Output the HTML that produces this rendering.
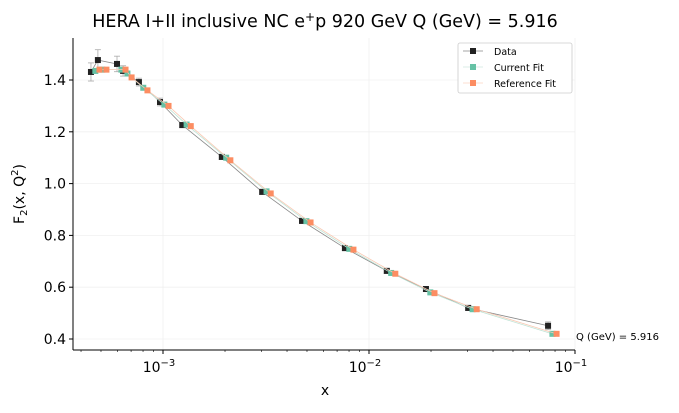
<!DOCTYPE html>
<html><head><meta charset="utf-8"><style>
body{margin:0;background:#fff;font-family:"Liberation Sans","DejaVu Sans",sans-serif}
svg text{font-family:"DejaVu Sans","Liberation Sans",sans-serif}
</style></head><body>
<svg id="c" width="679" height="408" viewBox="0 0 679 408">
<text x="325" y="27" font-size="17.5" text-anchor="middle" fill="#000">HERA I+II inclusive NC e<tspan dy="-6" font-size="12">+</tspan><tspan dy="6">p 920 GeV Q (GeV) = 5.916</tspan></text>
<g id="grid"></g><g id="series"></g><g id="axes"></g>
<text x="325" y="395" font-size="14" text-anchor="middle">x</text>
<text transform="translate(24,194) rotate(-90)" font-size="14" text-anchor="middle">F<tspan font-size="10" dy="3">2</tspan><tspan dy="-3">(x, Q</tspan><tspan font-size="10" dy="-6">2</tspan><tspan dy="6">)</tspan></text>
<text x="576" y="340" font-size="10">Q (GeV) = 5.916</text>
<g>
<rect x="458" y="43" width="114" height="50" rx="2" fill="#fff" stroke="#ccc" stroke-width="0.8"/>
<g><line x1="463" x2="483" y1="51" y2="51" stroke="#888" stroke-width="0.8"/><rect x="470" y="48" width="6" height="6" fill="#222"/><text x="494" y="55" font-size="9.5">Data</text></g>
<g><line x1="463" x2="483" y1="67" y2="67" stroke="#cfe9df" stroke-width="0.8"/><rect x="470" y="64" width="6" height="6" fill="#66c2a5"/><text x="494" y="71" font-size="9.5">Current Fit</text></g>
<g><line x1="463" x2="483" y1="83" y2="83" stroke="#fbd5c3" stroke-width="0.8"/><rect x="470" y="80" width="6" height="6" fill="#fc8d62"/><text x="494" y="87" font-size="9.5">Reference Fit</text></g>
</g>
</svg>
<script>
const xData=[4.47e-4,4.83e-4,5.98e-4,6.4e-4,7.64e-4,9.67e-4,1.24e-3,1.93e-3,3.03e-3,4.73e-3,7.64e-3,1.22e-2,1.89e-2,3.03e-2,7.4e-2];
const fData=[1.431,1.477,1.462,1.435,1.392,1.315,1.226,1.103,0.968,0.856,0.751,0.663,0.593,0.520,0.451];
const errData=[0.035,0.04,0.03,0.02,0.015,0.015,0.01,0.01,0.01,0.01,0.01,0.01,0.01,0.01,0.015];
const fCurrent=[1.435,1.44,1.44,1.425,1.37,1.305,1.228,1.10,0.97,0.855,0.748,0.655,0.58,0.515,0.42];
const fReference=[1.44,1.44,1.44,1.41,1.36,1.30,1.222,1.09,0.962,0.85,0.745,0.652,0.577,0.515,0.42];
const xTicks=[1e-3,1e-2,1e-1];
const xTickLabels=["10","10","10"];
const xTickExp=["−3","−2","−1"];
const yTicks=[0.4,0.6,0.8,1.0,1.2,1.4];
const NS="http://www.w3.org/2000/svg";
const X0=73,X1=575,Y0=38,Y1=350;
const sx=v=>163+(Math.log10(v)+3)*206;
const sy=v=>80+(1.4-v)*259;
function mk(p,t,a){const e=document.createElementNS(NS,t);for(const k in a)e.setAttribute(k,a[k]);p.appendChild(e);return e;}
const grid=document.getElementById('grid'),ser=document.getElementById('series'),ax=document.getElementById('axes');
xTicks.forEach(v=>{const g=mk(grid,'line',{x1:sx(v),x2:sx(v),y1:Y0,y2:Y1,stroke:'#f0f0f0','stroke-width':0.8});

});
yTicks.forEach(v=>{const g=mk(grid,'line',{x1:X0,x2:X1,y1:sy(v),y2:sy(v),stroke:'#f0f0f0','stroke-width':0.8});

});
function series(xs,ys,shift,col,lineCol,name,errs){
 const g=mk(ser,'g',{});
 
 
 const pts=xs.map((x,i)=>[sx(x*shift),sy(ys[i])]);
 mk(g,'polyline',{points:pts.map(p=>p.join(',')).join(' '),fill:'none',stroke:lineCol,'stroke-width':0.8});
 if(errs)pts.forEach((p,i)=>{const t=sy(ys[i]+errs[i]),b=sy(ys[i]-errs[i]);
  mk(g,'line',{x1:p[0],x2:p[0],y1:t,y2:b,stroke:'#aaa','stroke-width':0.8});
  mk(g,'line',{x1:p[0]-3,x2:p[0]+3,y1:t,y2:t,stroke:'#aaa','stroke-width':0.8});
  mk(g,'line',{x1:p[0]-3,x2:p[0]+3,y1:b,y2:b,stroke:'#aaa','stroke-width':0.8});});
 pts.forEach(p=>{const r=mk(g,'rect',{x:p[0]-3,y:p[1]-3,width:6,height:6,fill:col});
 
 });
}
series(xData,fData,1,'#222','#888','data',errData);
series(xData,fCurrent,1.05,'#66c2a5','#bfe3d5','current-fit',null);
series(xData,fReference,1.1,'#fc8d62','#f9c9b3','reference-fit',null);
mk(ax,'line',{x1:X0,x2:X0,y1:Y0,y2:Y1,stroke:'#000','stroke-width':1});
mk(ax,'line',{x1:X0,x2:X1,y1:Y1,y2:Y1,stroke:'#000','stroke-width':1});
yTicks.forEach(v=>{mk(ax,'line',{x1:X0-4,x2:X0,y1:sy(v),y2:sy(v),stroke:'#000'});
 const t=mk(ax,'text',{x:X0-7,y:sy(v)+5,'font-size':14,'text-anchor':'end'});t.textContent=v.toFixed(1);
 
 });
for(let d=-4;d<=-1;d++)for(let m=1;m<10;m++){const v=m*Math.pow(10,d);const p=sx(v);if(p<X0||p>X1)continue;
 mk(ax,'line',{x1:p,x2:p,y1:Y1,y2:Y1+(m==1?4:2),stroke:'#000','stroke-width':m==1?1:0.6});}
xTicks.forEach((v,i)=>{const t=mk(ax,'text',{x:sx(v)-4,y:Y1+22,'font-size':14,'text-anchor':'middle'});
 t.textContent=xTickLabels[i];
 const s=mk(t,'tspan',{dy:-6,'font-size':10});s.textContent=xTickExp[i];
 
 });
</script>
</body></html>
